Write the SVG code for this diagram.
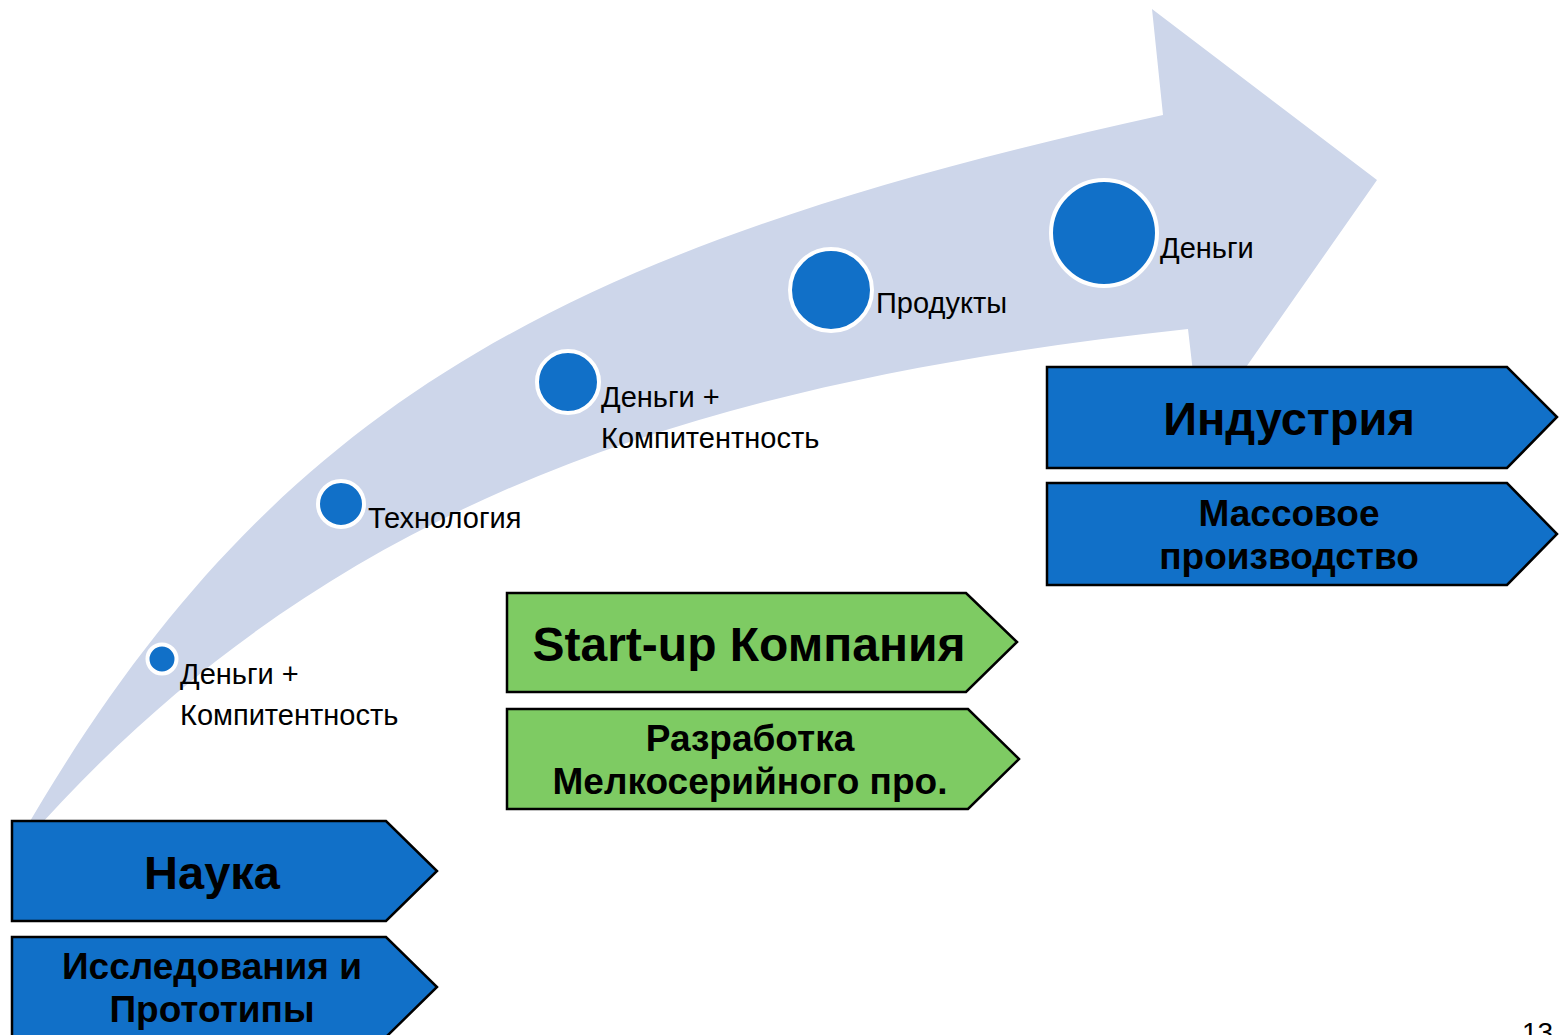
<svg xmlns="http://www.w3.org/2000/svg" width="1560" height="1035" viewBox="0 0 1560 1035">
<style>
.arrow{fill:#CDD6EA;stroke:none}
.dot{fill:#1170C8;stroke:#FFFFFF;stroke-width:4}
.lbl{font-family:"Liberation Sans",Arial,sans-serif;font-size:29px;fill:#000}
.blue{fill:#1170C8;stroke:#000;stroke-width:2.5}
.green{fill:#7ECB63;stroke:#000;stroke-width:2.5}
.t1{font-family:"Liberation Sans",Arial,sans-serif;font-size:47px;font-weight:bold;fill:#000;text-anchor:middle}
.t2{font-family:"Liberation Sans",Arial,sans-serif;font-size:37px;font-weight:bold;fill:#000;text-anchor:middle}
</style>
<rect width="1560" height="1035" fill="#FFFFFF"/>
<g id="connectors">
<path class="arrow" d="M20,845 L22,835 C272,402 563,247 1163,115 L1152,9 L1377,180 L1200,433 L1188,329 C688,383 322,504.5 25,842 Z"/>
</g>
<g id="dot1"><circle class="dot" cx="162" cy="659" r="14.5"/><text class="lbl" x="180" y="684">Деньги +</text><text class="lbl" x="180" y="725">Компитентность</text></g>
<g id="dot2"><circle class="dot" cx="341" cy="504" r="23"/><text class="lbl" x="368" y="528">Технология</text></g>
<g id="dot3"><circle class="dot" cx="568" cy="382" r="31"/><text class="lbl" x="601" y="407">Деньги +</text><text class="lbl" x="601" y="448">Компитентность</text></g>
<g id="dot4"><circle class="dot" cx="831" cy="290" r="41"/><text class="lbl" x="876" y="313">Продукты</text></g>
<g id="dot5"><circle class="dot" cx="1104" cy="233" r="53"/><text class="lbl" x="1160" y="258">Деньги</text></g>
<g id="nauka"><polygon class="blue" points="12,821 386,821 437,871 386,921 12,921"/><text class="t1" x="212" y="889">Наука</text></g>
<g id="research"><polygon class="blue" points="12,937 386,937 437,987 386,1037 12,1037"/><text class="t2" x="212" y="979">Исследования и</text><text class="t2" x="212" y="1022">Прототипы</text></g>
<g id="startup"><polygon class="green" points="507,593 966,593 1017,642 966,692 507,692"/><text class="t1" x="749" y="661" style="font-size:48px">Start-up Компания</text></g>
<g id="dev"><polygon class="green" points="507,709 968,709 1019,759 968,809 507,809"/><text class="t2" x="750" y="751">Разработка</text><text class="t2" x="750" y="794">Мелкосерийного про.</text></g>
<g id="industry"><polygon class="blue" points="1047,367 1507,367 1557,417 1507,468 1047,468"/><text class="t1" x="1289" y="435">Индустрия</text></g>
<g id="mass"><polygon class="blue" points="1047,483 1507,483 1557,534 1507,585 1047,585"/><text class="t2" x="1289" y="526">Массовое</text><text class="t2" x="1289" y="569">производство</text></g>
<text class="lbl" x="1522" y="1042" style="font-size:28px">13</text>
</svg>
